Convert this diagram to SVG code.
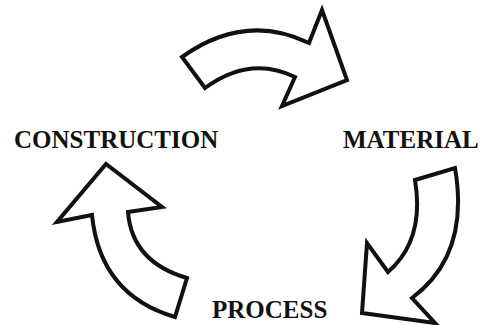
<svg xmlns="http://www.w3.org/2000/svg" width="482" height="325" viewBox="0 0 482 325">
  <style>
    .arrow { fill: #ffffff; stroke: #111111; stroke-width: 4; stroke-linejoin: miter; stroke-miterlimit: 10; }
    .label { font-family: "Liberation Serif", "Times New Roman", serif; font-weight: bold; font-size: 25px; fill: #111111; }
  </style>
  <rect width="482" height="325" fill="#ffffff"/>

  <!-- cycle arrows -->
  <g id="connectors">
    <!-- CONSTRUCTION to MATERIAL -->
    <path id="arrow-top" class="arrow" d="M182,57 Q245,12 309,43 L322,10 L347,80 L282,106 L295,77 Q250,55 205,88 Z"/>
    <!-- MATERIAL to PROCESS -->
    <path id="arrow-right" class="arrow" d="M415,180 L455,168 Q470,255 412,298 L435,323 L362,313 L367,243 L388,272 Q425,240 415,180 Z"/>
    <!-- PROCESS to CONSTRUCTION -->
    <path id="arrow-left" class="arrow" d="M187,278 L175,317 Q100,295 92,215 L57,222 L106,164 L162,207 L128,212 Q132,262 187,278 Z"/>
  </g>

  <g id="node-construction">
    <text class="label" x="14" y="148">CONSTRUCTION</text>
  </g>
  <g id="node-material">
    <text class="label" x="343" y="148">MATERIAL</text>
  </g>
  <g id="node-process">
    <text class="label" x="212" y="318">PROCESS</text>
  </g>
</svg>
